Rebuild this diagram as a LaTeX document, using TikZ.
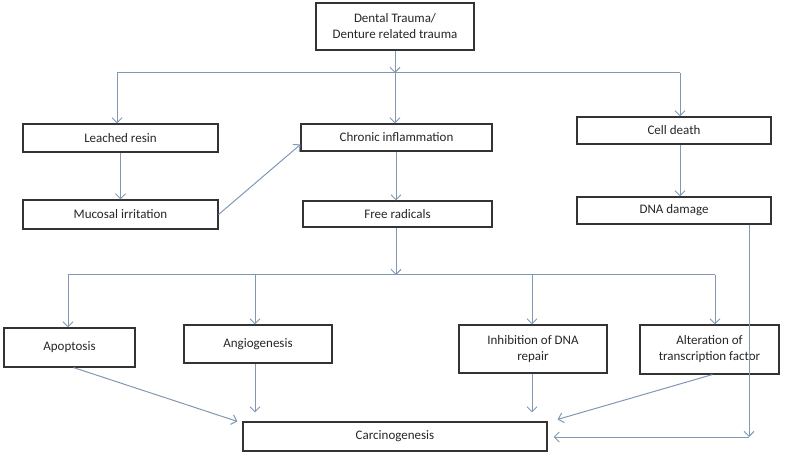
\documentclass[tikz,border=0pt]{standalone}
\usepackage{fontspec}
\setmainfont{Carlito}
\usetikzlibrary{arrows.meta}
\definecolor{linkblue}{RGB}{128,152,180}
\begin{document}
\begin{tikzpicture}[x=1pt,y=-1pt]
\tikzstyle{box}=[draw=black!80, line width=1.1pt, rectangle, align=center, inner sep=0pt, text=black!85, font=\fontsize{13}{16}\selectfont]
\tikzstyle{ln}=[draw=linkblue, line width=1pt]
\tikzstyle{arr}=[ln, -{Straight Barb[length=5pt,width=10pt]}]
\useasboundingbox (0,0) rectangle (785,457);

\node[box, minimum width=158pt, minimum height=47pt] (trauma) at (395,26.5) {Dental Trauma/\\Denture related trauma};

\node[box, minimum width=195pt, minimum height=28pt] (leached) at (120.5,138) {Leached resin};
\node[box, minimum width=195pt, minimum height=29pt] (mucosal) at (120.5,214.5) {Mucosal irritation};
\node[box, minimum width=191pt, minimum height=27pt] (chronic) at (396.5,137.5) {Chronic inflammation};
\node[box, minimum width=189pt, minimum height=26pt] (free) at (397.5,214) {Free radicals};
\node[box, minimum width=194pt, minimum height=27pt] (cell) at (674,130.5) {Cell death};
\node[box, minimum width=194pt, minimum height=27pt] (dna) at (674,210.5) {DNA damage};

\node[box, minimum width=131pt, minimum height=39pt] (apoptosis) at (69.5,347.5) {Apoptosis};
\node[box, minimum width=148pt, minimum height=38pt] (angio) at (258,344) {Angiogenesis};
\node[box, minimum width=148pt, minimum height=48pt] (inhib) at (533,349) {Inhibition of DNA\\repair};
\node[box, minimum width=139pt, minimum height=49pt] (alter) at (709.5,349.5) {Alteration of\\transcription factor};
\node[box, minimum width=304pt, minimum height=29pt] (carc) at (395,436.5) {Carcinogenesis};

\coordinate (busA) at (395,73);
\coordinate (busAl) at (117,73);
\coordinate (busAr) at (680,73);
\coordinate (busB) at (396,275);
\coordinate (busBl) at (68,275);
\coordinate (busBr) at (715,275);
\coordinate (angx) at (255,275);
\coordinate (inhx) at (532,275);
\coordinate (dnax) at (749,437);

\draw[arr] (trauma) -- (busA);
\draw[ln] (busAl) -- (busAr);
\draw[arr] (busAl) -- (busAl |- leached.north);
\draw[arr] (busA) -- (busA |- chronic.north);
\draw[arr] (busAr) -- (busAr |- cell.north);
\draw[arr] (leached) -- (mucosal);
\draw[arr] (mucosal.east) -- ([yshift=-7pt]chronic.west);
\draw[arr] (chronic.south -| busB) -- (busB |- free.north);
\draw[arr] (free.south -| busB) -- (busB);
\draw[arr] (cell.south -| busAr) -- (busAr |- dna.north);

\draw[ln] (busBl) -- (busBr);
\draw[arr] (busBl) -- (busBl |- apoptosis.north);
\draw[arr] (angx) -- (angx |- angio.north);
\draw[arr] (inhx) -- (inhx |- inhib.north);
\draw[arr] (busBr) -- (busBr |- alter.north);

\draw[arr] ([xshift=4pt]apoptosis.south) -- ([xshift=-5pt]carc.north west);
\draw[arr, shorten >=9pt] (angio.south -| angx) -- (angx |- carc.north);
\draw[arr, shorten >=9pt] (inhib.south -| inhx) -- (inhx |- carc.north);
\draw[arr] ([xshift=3pt]alter.south) -- ([shift={(10pt,2pt)}]carc.north east);
\draw[arr] (dna.south -| dnax) -- (dnax);
\draw[arr, shorten >=6pt] (dnax) -- (dnax -| carc.east);
\end{tikzpicture}
\end{document}
